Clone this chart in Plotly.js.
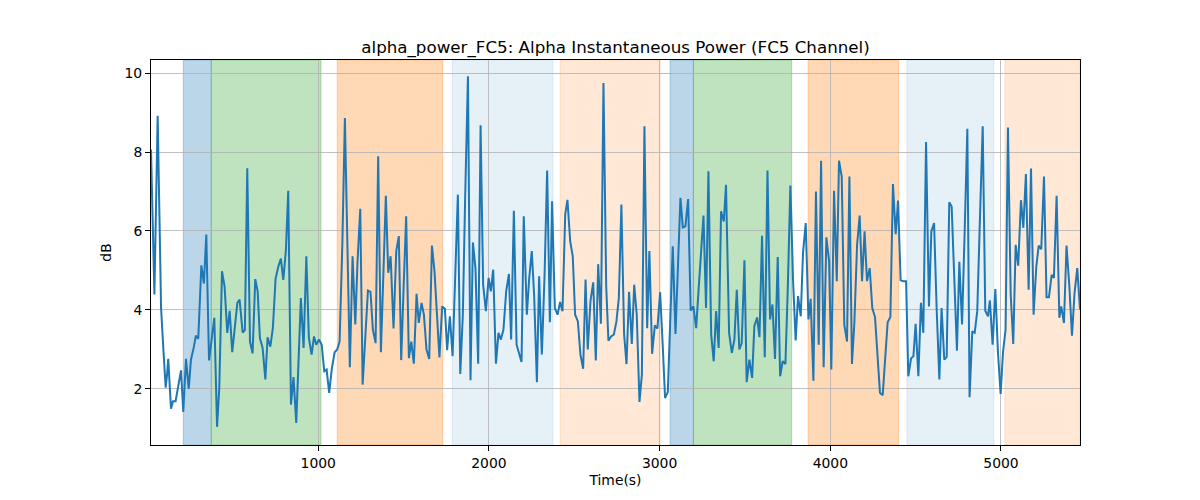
<!DOCTYPE html>
<html>
<head>
<meta charset="utf-8">
<script src="https://cdn.plot.ly/plotly-3.0.1.min.js"></script>
<style>
html,body{margin:0;padding:0;background:#fff;}
#chart{width:1200px;height:500px;}
</style>
</head>
<body>
<div id="chart"></div>
<script>
// ---- data ----
var timeS = [20,40,59,79,92,106,114,121,137,149,164,180,196,209,225,241,254,270,283,297,315,330,344,360,375,391,407,420,436,451,467,481,496,512,526,539,557,570,584,600,615,631,645,658,674,690,703,719,734,750,766,781,795,810,824,840,855,871,885,898,914,930,
945,961,975,988,1004,1020,1035,1049,1064,1080,1096,1111,1125,1141,1156,1172,1185,1201,1217,1230,1246,1260,1275,1291,1306,1320,1336,1351,1367,1381,1396,1410,1424,1441,1457,1472,1486,1500,1515,1531,1545,1560,1576,1589,1605,1619,1634,1650,1666,1681,1695,1710,1726,1742,1755,1771,1787,1802,1818,1832,
1847,1861,1877,1892,1906,1921,1937,1951,1966,1982,1998,2011,2025,2041,2056,2070,2085,2101,2117,2130,2146,2162,2175,2191,2204,2222,2236,2251,2265,2281,2294,2310,2326,2341,2357,2370,2386,2402,2417,2431,2447,2460,2476,2491,2505,2521,2536,2552,2566,2579,2595,2611,2626,2640,2656,2671,2687,
2700,2716,2732,2747,2761,2776,2792,2806,2821,2837,2851,2866,2882,2896,2911,2927,2940,2956,2972,2987,3003,3018,3032,3048,3063,3077,3093,3106,3122,3136,3151,3167,3182,3198,3214,3229,3243,3257,3272,3286,3302,3317,3331,3346,3360,3376,3389,3407,3423,3438,3452,3467,3481,3497,3510,3526,3542,3555,3571,3585,
3600,3616,3632,3647,3661,3676,3692,3706,3721,3737,3751,3766,3782,3797,3811,3827,3840,3856,3872,3885,3901,3916,3932,3946,3961,3977,3993,4006,4022,4038,4051,4067,4082,4098,4112,4127,4141,4157,4172,4186,4201,4215,4231,4246,4262,4278,4291,4307,4322,4336,4352,4367,4383,4397,4412,4428,4444,4457,
4473,4487,4500,4516,4531,4545,4561,4578,4592,4608,4623,4639,4652,4668,4682,4697,4711,4727,4742,4756,4772,4787,4803,4816,4832,4846,4861,4877,4893,4908,4924,4935,4951,4967,4982,4998,5012,5027,5041,5057,5072,5086,5101,5117,5131,5146,5162,5176,5191,5207,5221,5236,5252,5267,5281,5297,5310,5326,5342,5353,5369,5384,5400,5416,5431,5447,5463];

var alphaDb = [8.06,4.39,8.92,4.05,3.04,2.03,2.36,2.76,1.50,1.69,1.69,2.11,2.47,1.42,2.76,2.00,2.74,3.04,3.35,3.27,5.13,4.67,5.91,2.72,3.29,3.80,1.04,2.03,4.98,4.60,3.42,3.98,2.93,3.63,4.18,4.26,3.43,3.49,7.59,3.20,2.90,4.78,4.47,3.29,3.04,2.24,3.31,3.07,3.54,4.79,5.10,5.30,4.76,5.49,7.02,1.60,2.30,1.14,2.62,4.30,3.04,5.36,
3.29,2.87,3.33,3.12,3.25,3.12,2.45,2.49,1.90,2.53,2.93,3.00,3.20,5.65,8.86,5.74,2.55,5.36,3.63,5.23,6.56,2.11,3.12,4.49,4.46,3.50,3.16,7.89,2.93,4.64,6.89,4.94,5.36,3.53,5.49,5.87,2.73,4.56,6.37,2.78,3.20,2.64,4.41,3.67,4.18,3.88,3.00,2.76,5.63,4.98,4.01,2.80,4.09,4.03,2.98,3.84,2.83,4.89,6.92,2.38,
3.88,6.92,9.92,2.22,5.71,5.06,2.64,8.68,4.64,3.97,4.81,4.47,5.02,2.64,3.42,3.25,3.50,4.47,4.91,3.25,6.51,3.12,2.91,2.68,6.37,3.88,4.81,5.49,4.35,2.17,4.85,2.87,4.89,7.53,3.69,6.75,4.05,3.88,4.20,3.97,6.43,6.79,5.74,5.36,3.88,3.71,2.87,2.51,4.77,3.00,4.24,4.70,2.72,5.16,3.65,9.75,4.60,
3.22,3.33,3.38,3.71,4.30,6.67,3.38,2.63,4.46,3.14,4.64,3.88,1.67,2.36,8.65,3.54,5.49,2.89,3.61,3.53,4.45,3.12,1.77,1.92,3.88,5.61,3.39,4.98,6.84,6.09,6.12,6.81,3.98,4.09,3.54,4.56,5.40,6.39,4.05,7.51,3.38,2.70,3.97,3.04,6.50,6.24,7.17,3.42,2.91,3.25,4.51,3.00,3.16,5.26,2.17,2.74,2.28,3.59,3.81,3.31,
5.88,2.80,7.53,3.76,4.14,2.76,5.34,2.32,2.70,2.63,4.56,7.15,4.73,3.23,4.35,3.84,5.44,6.20,3.76,4.28,2.21,7.00,3.12,7.78,2.55,5.84,5.23,2.49,7.02,4.73,7.78,7.38,3.63,3.20,7.38,2.63,3.67,5.65,6.39,4.73,5.99,4.73,5.06,4.05,3.82,2.87,1.90,1.84,2.87,3.69,3.82,7.19,5.92,6.77,4.75,4.73,4.73,2.32,
2.77,2.83,3.65,2.32,4.18,3.42,8.25,4.09,5.99,6.20,4.05,2.24,4.05,2.74,2.81,6.73,6.62,4.77,2.97,5.22,3.63,5.95,8.59,1.79,3.46,3.42,3.97,6.35,8.65,3.98,3.84,4.24,3.12,4.53,2.95,1.87,2.93,3.50,8.62,4.39,3.14,5.65,5.12,6.78,6.08,7.44,4.51,7.58,3.88,5.10,5.63,5.54,7.38,4.32,4.32,4.89,4.81,6.89,3.80,4.09,3.67,5.63,4.64,3.35,4.43,5.06,4.01];

// shaded intervals (seconds) and their kind
var regionStart = [209, 373, 1111, 1785, 2417, 3061, 3198, 3870, 4449, 5023];
var regionEnd   = [373, 1016, 1730, 2375, 3003, 3198, 3774, 4401, 4959, 5463];
var regionKind  = ['blue','green','orange','lightblue','lightorange','blue','green','orange','lightblue','lightorange'];

var xTicks = [1000, 2000, 3000, 4000, 5000];
var yTicks = [2, 4, 6, 8, 10];

// ---- styles ----
var kindColor = {
  blue: 'rgba(31,119,180,0.3)',
  green: 'rgba(44,160,44,0.3)',
  orange: 'rgba(255,127,14,0.3)',
  lightblue: 'rgba(31,119,180,0.11)',
  lightorange: 'rgba(255,127,14,0.17)'
};

var shapes = regionStart.map(function (s, i) {
  var c = kindColor[regionKind[i]];
  return {
    type: 'rect', xref: 'x', yref: 'paper',
    x0: s, x1: regionEnd[i], y0: 0, y1: 1,
    fillcolor: c, line: {color: c, width: 1}, layer: 'below'
  };
});

var trace = {
  x: timeS, y: alphaDb, type: 'scatter', mode: 'lines',
  line: {color: '#1f77b4', width: 2}, hoverinfo: 'x+y'
};

var font = {family: 'DejaVu Sans, sans-serif', size: 13.9, color: '#000'};

var layout = {
  width: 1200, height: 500,
  margin: {l: 151, r: 120, t: 60, b: 55, pad: 0},
  paper_bgcolor: '#fff', plot_bgcolor: '#fff',
  font: font,
  showlegend: false,
  title: {text: 'alpha_power_FC5: Alpha Instantaneous Power (FC5 Channel)',
          font: {family: 'DejaVu Sans, sans-serif', size: 16.7, color: '#000'},
          x: 0.5, xref: 'paper', xanchor: 'center', y: 1, yref: 'paper', yanchor: 'bottom', pad: {b: 7}},
  xaxis: {
    range: [20, 5463], tickmode: 'array', tickvals: xTicks,
    ticks: 'outside', ticklen: 5, tickwidth: 1, tickcolor: '#000',
    showgrid: true, gridcolor: '#b0b0b0', gridwidth: 0.8, zeroline: false,
    showline: true, linecolor: '#000', linewidth: 1, mirror: true,
    tickfont: font,
    title: {text: 'Time(s)', font: font, standoff: 5}, automargin: false
  },
  yaxis: {
    range: [0.58, 10.33], tickmode: 'array', tickvals: yTicks,
    ticks: 'outside', ticklen: 5, tickwidth: 1, tickcolor: '#000',
    showgrid: true, gridcolor: '#b0b0b0', gridwidth: 0.8, zeroline: false,
    showline: true, linecolor: '#000', linewidth: 1, mirror: true,
    tickfont: font,
    title: {text: 'dB', font: font, standoff: 9}, automargin: false
  },
  shapes: shapes
};

Plotly.newPlot('chart', [trace], layout, {staticPlot: true, displayModeBar: false});
</script>
</body>
</html>
